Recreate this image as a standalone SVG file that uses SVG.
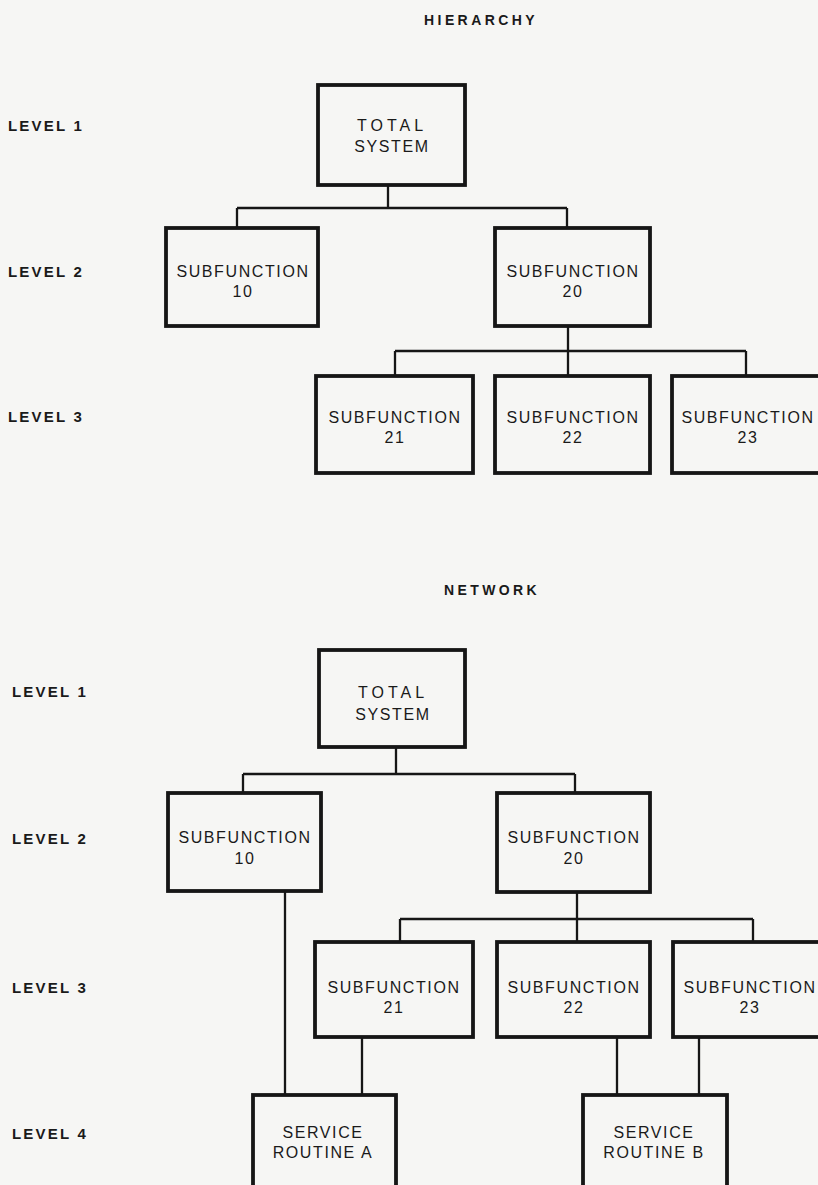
<svg xmlns="http://www.w3.org/2000/svg" width="818" height="1185" viewBox="0 0 818 1185">
<style>
.bg{fill:#f6f6f4}
.box{fill:none;stroke:#161616;stroke-width:3.8}
.con{fill:none;stroke:#161616;stroke-width:2.3}
.t{font-family:"Liberation Sans",Arial,sans-serif;font-size:16px;fill:#1a1a1a;text-anchor:middle;letter-spacing:1.6px}
.title{font-family:"Liberation Sans",Arial,sans-serif;font-size:14px;font-weight:bold;fill:#1a1a1a;text-anchor:middle;letter-spacing:3.4px}
.lvl{font-family:"Liberation Sans",Arial,sans-serif;font-size:15px;font-weight:bold;fill:#1a1a1a;letter-spacing:2.2px}
</style>
<rect class="bg" x="0" y="0" width="818" height="1185"/>

<g id="labels">
<text class="title" x="481" y="25">HIERARCHY</text>
<text class="lvl" x="8" y="131">LEVEL 1</text>
<text class="lvl" x="8" y="277">LEVEL 2</text>
<text class="lvl" x="8" y="422">LEVEL 3</text>
<text class="title" x="492" y="595">NETWORK</text>
<text class="lvl" x="12" y="697">LEVEL 1</text>
<text class="lvl" x="12" y="844">LEVEL 2</text>
<text class="lvl" x="12" y="993">LEVEL 3</text>
<text class="lvl" x="12" y="1139">LEVEL 4</text>
</g>

<g id="connectors">
<path class="con" d="M388,185 V208 M237,208 H567 M237,208 V228 M567,208 V228"/>
<path class="con" d="M568,326 V351 M395,351 H746 M395,351 V376 M568,351 V376 M746,351 V376"/>
<path class="con" d="M396,747 V774 M243,774 H575 M243,774 V793 M575,774 V793"/>
<path class="con" d="M577,892 V919 M400,919 H753 M400,919 V942 M577,919 V942 M753,919 V942"/>
<path class="con" d="M285,891 V1095 M362,1037 V1095 M617,1037 V1095 M699,1037 V1095"/>
</g>

<g id="h-total">
<rect class="box" x="318" y="85" width="147" height="100"/>
<text class="t" x="392" y="131" style="letter-spacing:4px">TOTAL</text>
<text class="t" x="392" y="152">SYSTEM</text>
</g>
<g id="h-sub10">
<rect class="box" x="166" y="228" width="152" height="98"/>
<text class="t" x="243" y="277">SUBFUNCTION</text>
<text class="t" x="243" y="297">10</text>
</g>
<g id="h-sub20">
<rect class="box" x="495" y="228" width="155" height="98"/>
<text class="t" x="573" y="277">SUBFUNCTION</text>
<text class="t" x="573" y="297">20</text>
</g>
<g id="h-sub21">
<rect class="box" x="316" y="376" width="157" height="97"/>
<text class="t" x="395" y="423">SUBFUNCTION</text>
<text class="t" x="395" y="443">21</text>
</g>
<g id="h-sub22">
<rect class="box" x="495" y="376" width="155" height="97"/>
<text class="t" x="573" y="423">SUBFUNCTION</text>
<text class="t" x="573" y="443">22</text>
</g>
<g id="h-sub23">
<rect class="box" x="672" y="376" width="152" height="97"/>
<text class="t" x="748" y="423">SUBFUNCTION</text>
<text class="t" x="748" y="443">23</text>
</g>

<g id="n-total">
<rect class="box" x="319" y="650" width="146" height="97"/>
<text class="t" x="393" y="698" style="letter-spacing:4px">TOTAL</text>
<text class="t" x="393" y="720">SYSTEM</text>
</g>
<g id="n-sub10">
<rect class="box" x="168" y="793" width="153" height="98"/>
<text class="t" x="245" y="843">SUBFUNCTION</text>
<text class="t" x="245" y="864">10</text>
</g>
<g id="n-sub20">
<rect class="box" x="497" y="793" width="153" height="99"/>
<text class="t" x="574" y="843">SUBFUNCTION</text>
<text class="t" x="574" y="864">20</text>
</g>
<g id="n-sub21">
<rect class="box" x="315" y="942" width="158" height="95"/>
<text class="t" x="394" y="993">SUBFUNCTION</text>
<text class="t" x="394" y="1013">21</text>
</g>
<g id="n-sub22">
<rect class="box" x="497" y="942" width="153" height="95"/>
<text class="t" x="574" y="993">SUBFUNCTION</text>
<text class="t" x="574" y="1013">22</text>
</g>
<g id="n-sub23">
<rect class="box" x="673" y="942" width="152" height="95"/>
<text class="t" x="750" y="993">SUBFUNCTION</text>
<text class="t" x="750" y="1013">23</text>
</g>
<g id="n-svcA">
<rect class="box" x="253" y="1095" width="143" height="100"/>
<text class="t" x="323" y="1138">SERVICE</text>
<text class="t" x="323" y="1158">ROUTINE A</text>
</g>
<g id="n-svcB">
<rect class="box" x="583" y="1095" width="144" height="100"/>
<text class="t" x="654" y="1138">SERVICE</text>
<text class="t" x="654" y="1158">ROUTINE B</text>
</g>
</svg>
